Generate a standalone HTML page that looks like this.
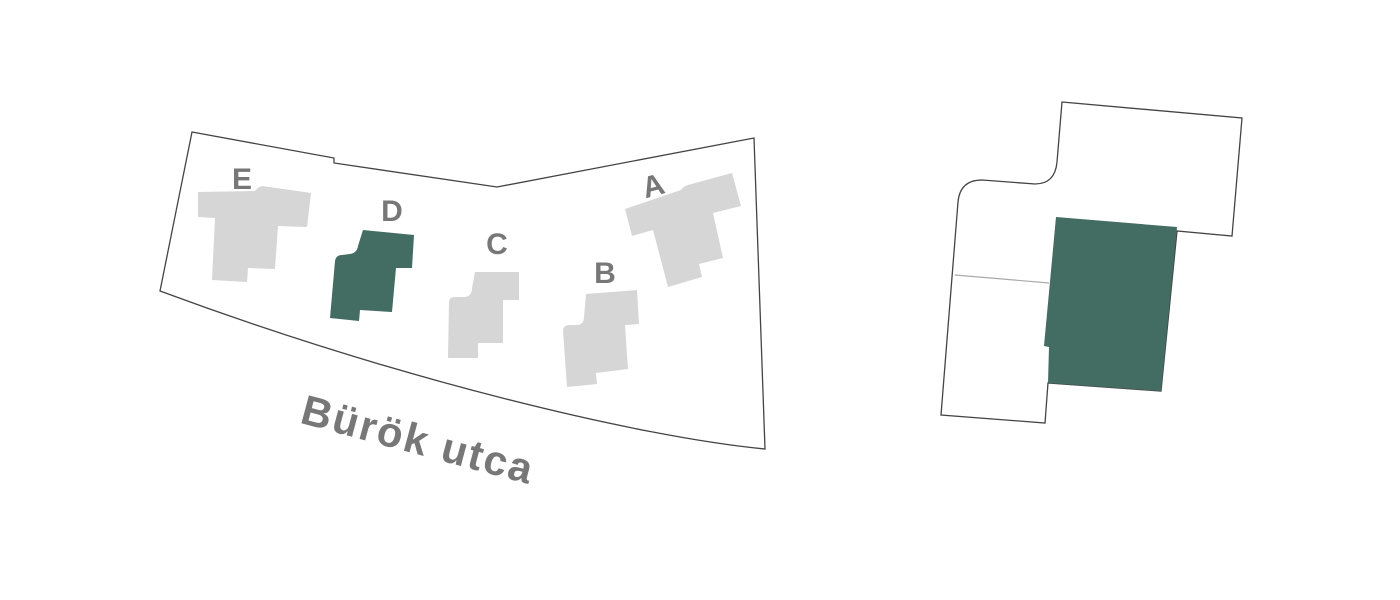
<!DOCTYPE html>
<html><head><style>html,body{margin:0;padding:0;background:#fff;width:1400px;height:600px;overflow:hidden}</style></head>
<body>
<svg width="1400" height="600" viewBox="0 0 1400 600" xmlns="http://www.w3.org/2000/svg">
<path d="M192,132 L334,158 L334,163 L497,187 L754,138 L765,449 C640,437 400,380 160,291 Z" fill="#fff" stroke="#444" stroke-width="1.3"/>
<g fill="#d6d6d6">
<path d="M198,192 L255,191 Q258,187 262,186 L311,193 L307,227 L278,226 L275,269 L248,268 L247,282 L212,280 L215,218 L198,217 Z"/>
<path d="M475,272 L519,272 L519,300 L503,300 L503,343 L478,343 L478,358 L448,358 L449,303 Q449,297 455,297 L465,297 Q472,296 472,288 Z"/>
<path d="M586,294 L637,290 L639,324 L625,325 L628,369 L596,373 L597,384 L567,387 L563,331 Q563,325 570,325 L578,325 Q584,324 584,317 Z"/>
<path d="M625,209 L681,190 Q684,186 688,185 L732,173 L741,206 L713,213 L723,258 L699,264 L702,277 L668,287 L653,230 L632,236 Z"/>
</g>
<path d="M363,230 L414,235 L412,268 L396,268 L392,312 L360,310 L359,321 L330,318 L335,261 Q336,255 342,255 L350,254 Q357,253 358,246 Z" fill="#436c63"/>
<g font-family="'Liberation Sans',sans-serif" font-weight="bold" fill="#777" font-size="30" text-anchor="middle">
<text x="242" y="189">E</text>
<text x="392" y="221">D</text>
<text x="497" y="254">C</text>
<text x="605" y="283">B</text>
<text x="653" y="196" transform="rotate(-15 653 185)">A</text>
<text x="418" y="454" font-size="42" letter-spacing="2" transform="rotate(15 418 440)">Bürök utca</text>
</g>
<path d="M1062,102 L1242,118 L1232,236 L1177,231 L1161,391 L1048,383 L1045,423 L941,415 L958,202 Q960,180 982,180 L1035,184 Q1055,184 1057,162 Z" fill="#fff" stroke="#444" stroke-width="1.3"/>
<line x1="955" y1="275" x2="1049" y2="283" stroke="#aaa" stroke-width="1.2"/>
<path d="M1056,217 L1177,227 L1161,391 L1048,383 L1049,347 L1044,346 Z" fill="#436c63"/>
</svg>
</body></html>
